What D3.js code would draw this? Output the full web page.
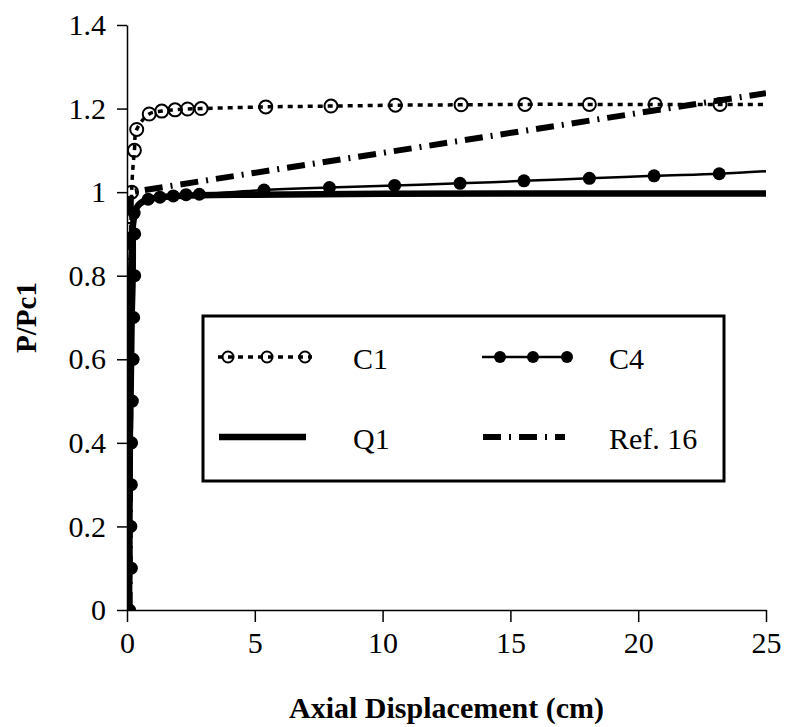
<!DOCTYPE html>
<html>
<head>
<meta charset="utf-8">
<script src="https://cdn.jsdelivr.net/npm/d3@7"></script>
<style>
  body { margin: 0; background: #fff; }
  svg { font-family: "Liberation Serif", "Times New Roman", serif; }
  .axis path, .axis line { stroke: #000; stroke-width: 1.5; }
  .axis text { font-size: 30px; fill: #000; font-family: "Liberation Serif", "Times New Roman", serif; }
</style>
</head>
<body>
<svg width="787" height="727"></svg>
<script>
// tick values / labels
const xTicks = [0, 5, 10, 15, 20, 25];
const xTickLabels = ["0", "5", "10", "15", "20", "25"];
const yTicks = [0, 0.2, 0.4, 0.6, 0.8, 1, 1.2, 1.4];
const yTickLabels = ["0", "0.2", "0.4", "0.6", "0.8", "1", "1.2", "1.4"];

// series (x = axial displacement cm, y = P/Pc1)
const c1X = [0.1, 0.18, 0.29, 0.38, 0.87, 1.36, 1.88, 2.37, 2.9, 5.43, 7.98, 10.5, 13.07, 15.57, 18.09, 20.66, 23.2, 25];
const c1Y = [0, 1.0, 1.1, 1.15, 1.187, 1.194, 1.197, 1.199, 1.2, 1.204, 1.206, 1.208, 1.209, 1.21, 1.21, 1.21, 1.21, 1.21];

const c4X = [0.1, 0.17, 0.15, 0.17, 0.18, 0.21, 0.24, 0.26, 0.3, 0.3, 0.28, 0.83, 1.29, 1.81, 2.31, 2.83, 5.36, 7.92, 10.47, 13.03, 15.53, 18.09, 20.62, 23.17, 25];
const c4Y = [0, 0.1, 0.2, 0.3, 0.4, 0.5, 0.6, 0.7, 0.8, 0.9, 0.95, 0.983, 0.988, 0.991, 0.994, 0.995, 1.005, 1.011, 1.016, 1.021, 1.027, 1.033, 1.039, 1.044, 1.05];

const q1X = [0.08, 0.12, 0.18, 0.25, 0.4, 0.7, 1.2, 2.5, 5, 10, 25];
const q1Y = [0, 0.5, 0.85, 0.93, 0.965, 0.98, 0.987, 0.992, 0.994, 0.996, 0.997];

const refX = [0.1, 0.15, 25];
const refY = [0, 1.0, 1.237];

const zip = (xs, ys) => xs.map((x, i) => ({ x: x, y: ys[i] }));
const c1 = zip(c1X, c1Y);
const c4 = zip(c4X, c4Y);
const q1 = zip(q1X, q1Y);
const ref16 = zip(refX, refY);

const svg = d3.select("svg");
const margin = { top: 25, right: 21, bottom: 117, left: 127 };
const width = 787 - margin.left - margin.right;
const height = 727 - margin.top - margin.bottom;

const x = d3.scaleLinear().domain([0, 25]).range([margin.left, margin.left + width]);
const y = d3.scaleLinear().domain([0, 1.4]).range([margin.top + height, margin.top]);

svg.append("defs")
  .append("clipPath")
  .attr("id", "plot")
  .append("rect")
  .attr("x", margin.left)
  .attr("y", margin.top)
  .attr("width", width)
  .attr("height", height);

// axes
svg.append("g")
  .attr("class", "axis")
  .attr("transform", `translate(0, ${margin.top + height})`)
  .call(d3.axisBottom(x)
    .tickValues(xTicks)
    .tickFormat((d, i) => xTickLabels[i])
    .tickSize(12)
    .tickSizeOuter(0)
    .tickPadding(10));

svg.append("g")
  .attr("class", "axis")
  .attr("transform", `translate(${margin.left}, 0)`)
  .call(d3.axisLeft(y)
    .tickValues(yTicks)
    .tickFormat((d, i) => yTickLabels[i])
    .tickSize(10)
    .tickSizeOuter(0)
    .tickPadding(11));

svg.append("text")
  .attr("x", x(12.5))
  .attr("y", 718)
  .attr("text-anchor", "middle")
  .style("font-size", "30px")
  .style("font-weight", "bold")
  .text("Axial Displacement (cm)");

svg.append("text")
  .attr("transform", `translate(36, ${y(0.7)}) rotate(-90)`)
  .attr("text-anchor", "middle")
  .style("font-size", "29px")
  .style("font-weight", "bold")
  .text("P/Pc1");

// series
const line = d3.line()
  .x(d => x(d.x))
  .y(d => y(d.y))
  .curve(d3.curveCatmullRom.alpha(0.5));

const plot = svg.append("g").attr("clip-path", "url(#plot)");

const styles = {
  c1: { width: 3.5, dash: "5,5" },
  c4: { width: 2.5, dash: null },
  q1: { width: 6.5, dash: null },
  ref: { width: 6, dash: "18,8,2,8" }
};

plot.append("path")
  .datum(c1)
  .attr("d", line)
  .attr("fill", "none")
  .attr("stroke", "#000")
  .attr("stroke-width", styles.c1.width)
  .attr("stroke-dasharray", styles.c1.dash);

plot.selectAll("circle.c1")
  .data(c1.filter((d, i) => i > 0 && i < c1.length - 1))
  .enter()
  .append("circle")
  .attr("class", "c1")
  .attr("cx", d => x(d.x))
  .attr("cy", d => y(d.y))
  .attr("r", 6.5)
  .attr("fill", "none")
  .attr("stroke", "#000")
  .attr("stroke-width", 2);

plot.append("path")
  .datum(c4)
  .attr("d", line)
  .attr("fill", "none")
  .attr("stroke", "#000")
  .attr("stroke-width", styles.c4.width);

plot.selectAll("circle.c4")
  .data(c4.filter((d, i) => i < c4.length - 1))
  .enter()
  .append("circle")
  .attr("class", "c4")
  .attr("cx", d => x(d.x))
  .attr("cy", d => y(d.y))
  .attr("r", 6.5)
  .attr("fill", "#000");

plot.append("path")
  .datum(q1)
  .attr("d", line)
  .attr("fill", "none")
  .attr("stroke", "#000")
  .attr("stroke-width", styles.q1.width);

plot.append("path")
  .datum(ref16)
  .attr("d", d3.line().x(d => x(d.x)).y(d => y(d.y)))
  .attr("fill", "none")
  .attr("stroke", "#000")
  .attr("stroke-width", styles.ref.width)
  .attr("stroke-dasharray", styles.ref.dash);

// legend
const legend = svg.append("g");

legend.append("rect")
  .attr("x", 203)
  .attr("y", 316)
  .attr("width", 521)
  .attr("height", 165)
  .attr("fill", "#fff")
  .attr("stroke", "#000")
  .attr("stroke-width", 3);

const row1 = 357;
const row2 = 437;

// C1 sample
legend.append("line")
  .attr("x1", 218).attr("x2", 312).attr("y1", row1).attr("y2", row1)
  .attr("stroke", "#000")
  .attr("stroke-width", styles.c1.width)
  .attr("stroke-dasharray", styles.c1.dash);
legend.selectAll("circle.lc1")
  .data([228, 267, 305])
  .enter()
  .append("circle")
  .attr("cx", d => d)
  .attr("cy", row1)
  .attr("r", 5.5)
  .attr("fill", "none")
  .attr("stroke", "#000")
  .attr("stroke-width", 2);

// C4 sample
legend.append("line")
  .attr("x1", 482).attr("x2", 570).attr("y1", row1).attr("y2", row1)
  .attr("stroke", "#000")
  .attr("stroke-width", styles.c4.width);
legend.selectAll("circle.lc4")
  .data([500, 533, 567])
  .enter()
  .append("circle")
  .attr("cx", d => d)
  .attr("cy", row1)
  .attr("r", 6)
  .attr("fill", "#000");

// Q1 sample
legend.append("line")
  .attr("x1", 219).attr("x2", 306).attr("y1", row2).attr("y2", row2)
  .attr("stroke", "#000")
  .attr("stroke-width", styles.q1.width);

// Ref. 16 sample
legend.append("line")
  .attr("x1", 483).attr("x2", 565).attr("y1", row2).attr("y2", row2)
  .attr("stroke", "#000")
  .attr("stroke-width", styles.ref.width)
  .attr("stroke-dasharray", styles.ref.dash);

const legendLabels = [
  { text: "C1", x: 353, y: row1 + 11.5 },
  { text: "C4", x: 609, y: row1 + 11.5 },
  { text: "Q1", x: 353, y: row2 + 11.5 },
  { text: "Ref. 16", x: 609, y: row2 + 11.5 }
];

legend.selectAll("text")
  .data(legendLabels)
  .enter()
  .append("text")
  .attr("x", d => d.x)
  .attr("y", d => d.y)
  .style("font-size", "30px")
  .text(d => d.text);
</script>
</body>
</html>
